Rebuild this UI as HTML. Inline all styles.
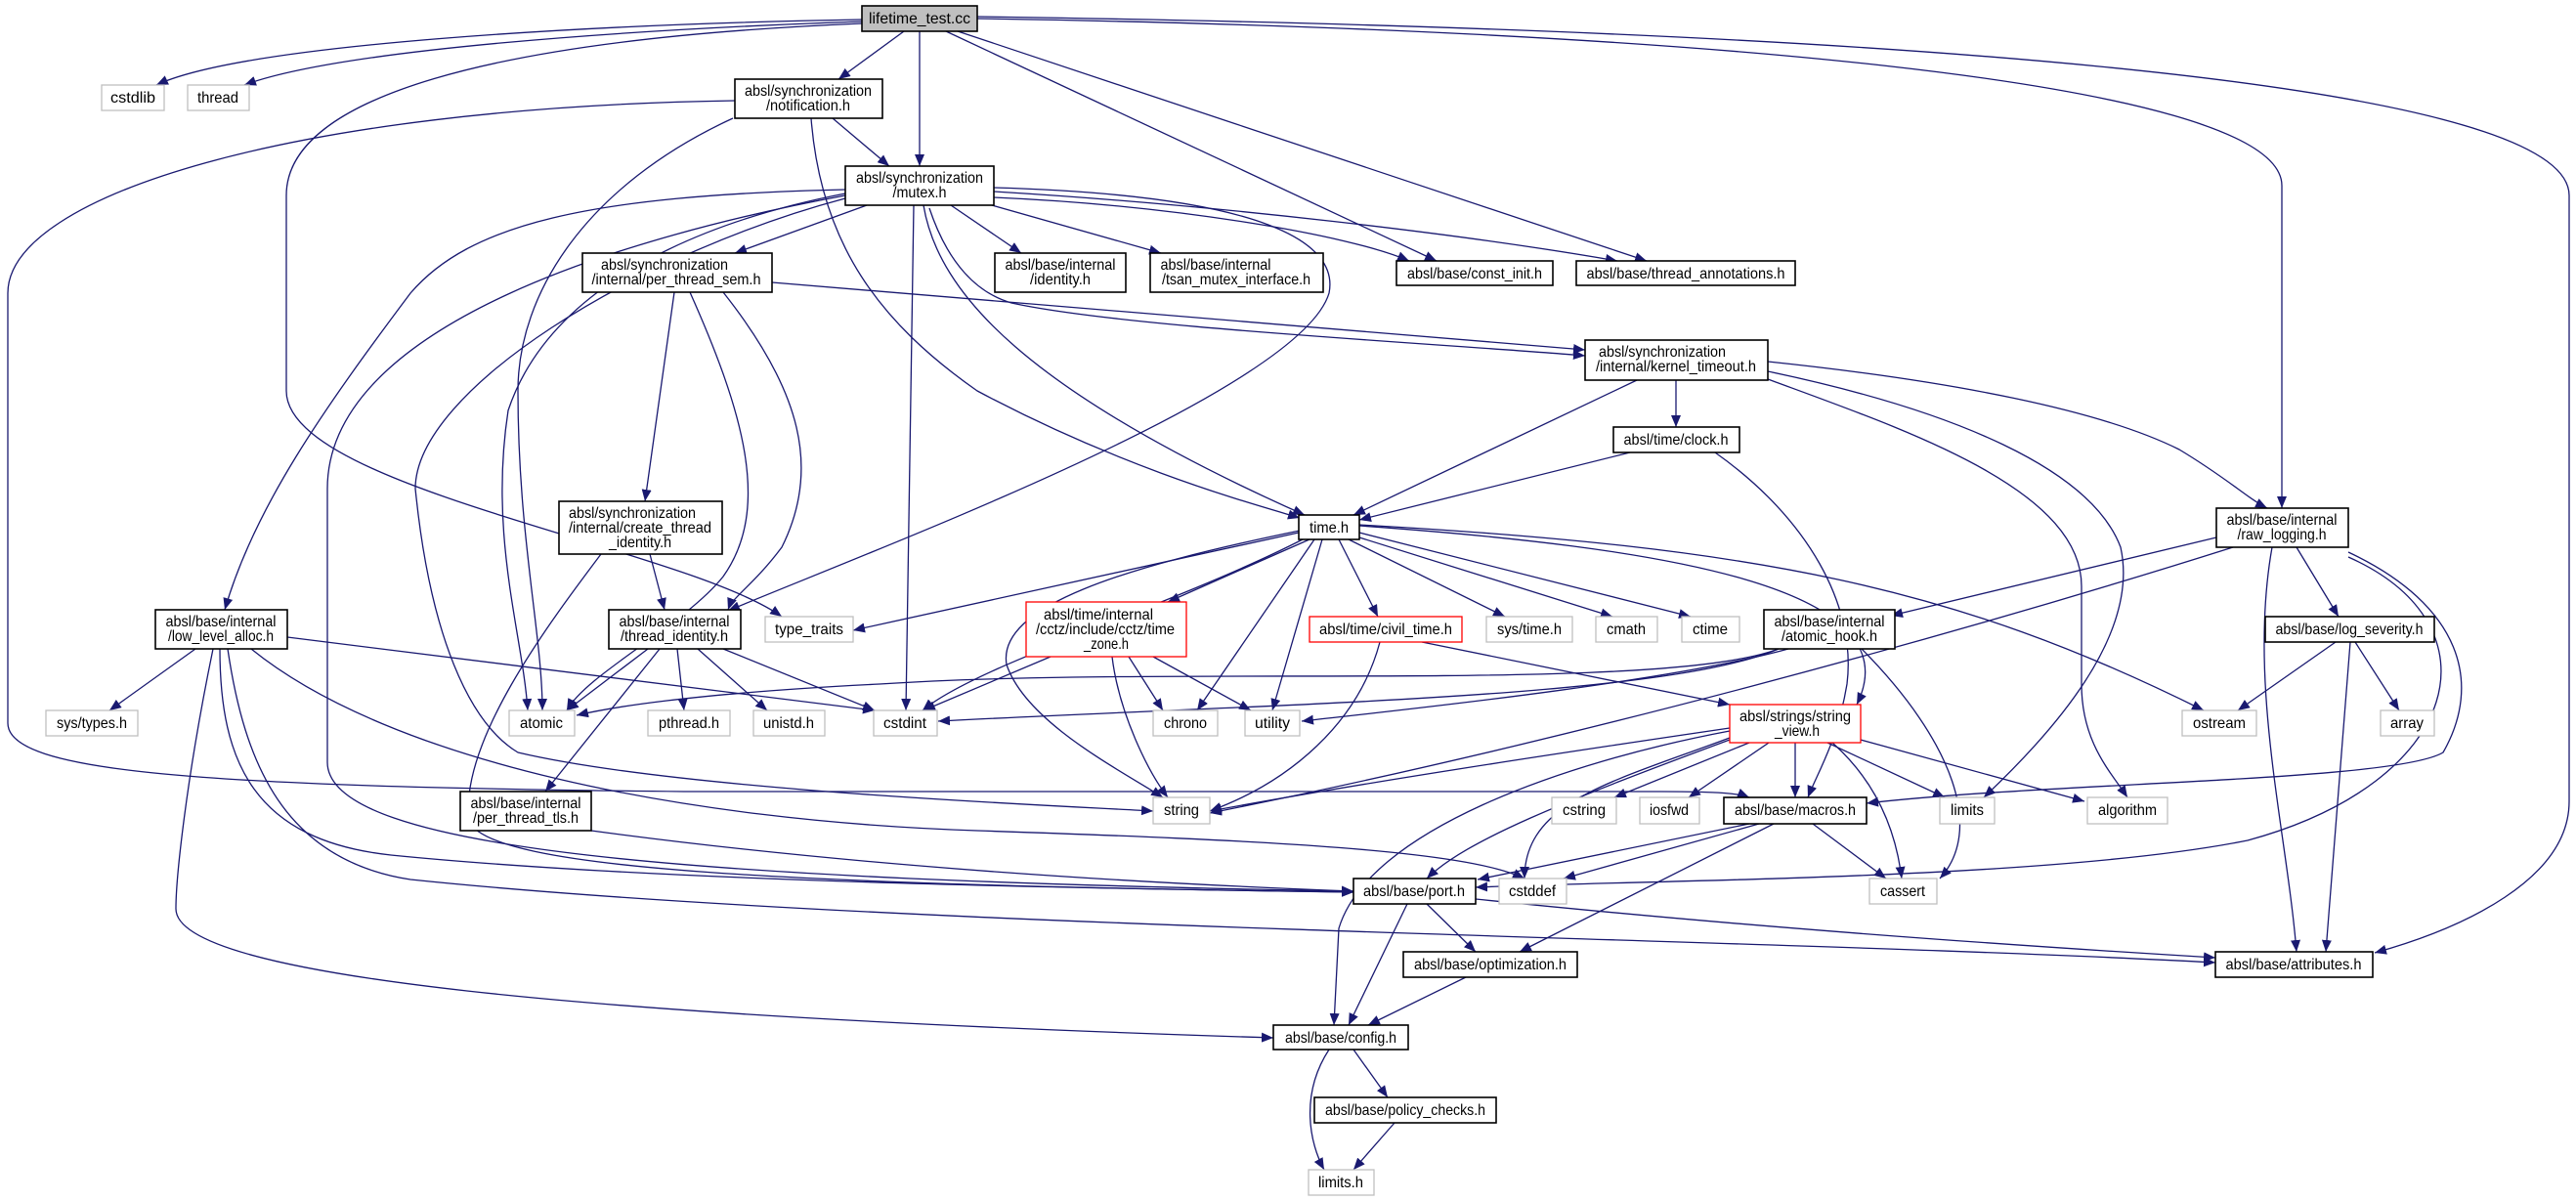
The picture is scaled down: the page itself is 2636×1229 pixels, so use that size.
<!DOCTYPE html>
<html><head><meta charset="utf-8"><style>
html,body{margin:0;padding:0;background:#fff;}
svg{display:block;}
text{font-family:"Liberation Sans",sans-serif;font-size:16px;fill:#000;text-anchor:middle;}
.e{fill:none;stroke:#191970;stroke-width:1.3;marker-end:url(#a);}
.n{fill:#fff;stroke:#000;stroke-width:1.6;}
.g{fill:#fff;stroke:#bfbfbf;stroke-width:1.3;}
.r{fill:#fff;stroke:#ff0000;stroke-width:1.3;}
</style></head><body>
<svg width="2636" height="1229" viewBox="0 0 2636 1229" xmlns="http://www.w3.org/2000/svg">
<defs><marker id="a" markerWidth="13" markerHeight="10" refX="12" refY="5" orient="auto" markerUnits="userSpaceOnUse"><path d="M0,0 L12,5 L0,10 z" fill="#191970"/></marker></defs>
<g>
<!-- lifetime_test.cc -->
<path class="e" d="M882,20 C600,25 250,45 160,87"/>
<path class="e" d="M882,22 C650,30 350,50 250,87"/>
<path class="e" d="M925,32 L858,81"/>
<path class="e" d="M941,32 L941,170"/>
<path class="e" d="M882,24 C500,40 293,100 293,200 L293,400 C293,500 700,560 800,631"/>
<path class="e" d="M968,32 L1470,267"/>
<path class="e" d="M980,32 L1685,267"/>
<path class="e" d="M1000,19 C1700,30 2335,80 2335,190 L2335,520"/>
<path class="e" d="M1000,17 C1900,30 2629,80 2629,200 L2629,820 C2629,900 2520,950 2430,975"/>
<!-- notification -->
<path class="e" d="M852,121 L910,170"/>
<path class="e" d="M752,103 C300,110 8,200 8,300 L8,740 C8,790 200,805 700,810 L1700,810 C1760,810 1780,812 1790,816"/>
<path class="e" d="M750,121 C600,190 530,300 530,400 C530,550 555,650 555,727"/>
<path class="e" d="M830,121 C840,250 900,330 1000,400 C1150,480 1280,515 1330,530"/>
<!-- mutex -->
<path class="e" d="M887,210 L752,259"/>
<path class="e" d="M973,210 L1045,259"/>
<path class="e" d="M1015,210 L1188,259"/>
<path class="e" d="M1017,202 C1200,210 1380,240 1442,267"/>
<path class="e" d="M1017,196 C1250,210 1500,240 1655,267"/>
<path class="e" d="M1017,192 C1300,200 1370,250 1360,300 C1330,400 900,560 745,625"/>
<path class="e" d="M951,213 C970,270 1000,300 1035,310 C1150,335 1450,350 1622,364"/>
<path class="e" d="M945,210 C960,300 1050,400 1335,527"/>
<path class="e" d="M935,210 L927,727"/>
<path class="e" d="M865,194 C600,200 480,230 420,300 C330,420 260,520 230,624"/>
<path class="e" d="M865,198 C700,230 560,300 520,420 C500,550 535,650 540,727"/>
<path class="e" d="M865,200 C650,240 335,330 335,500 L335,780 C335,870 700,900 1385,912"/>
<path class="e" d="M865,203 C650,260 425,400 425,500 C440,650 480,740 530,770 C700,810 1100,825 1180,830"/>
<!-- per_thread_sem -->
<path class="e" d="M690,299 L660,513"/>
<path class="e" d="M706,299 C760,420 790,520 740,590 C700,640 600,690 580,727"/>
<path class="e" d="M740,299 C820,400 840,480 800,560 C770,600 750,610 745,624"/>
<path class="e" d="M790,289 L1622,358"/>
<!-- create_thread_identity -->
<path class="e" d="M665,567 L680,624"/>
<path class="e" d="M615,567 C560,640 470,760 480,840 C500,890 800,905 1385,913"/>
<!-- thread_identity -->
<path class="e" d="M663,664 L580,727"/>
<path class="e" d="M693,664 L700,727"/>
<path class="e" d="M714,664 L785,727"/>
<path class="e" d="M740,664 L895,727"/>
<path class="e" d="M675,664 L558,810"/>
<!-- low_level_alloc -->
<path class="e" d="M200,664 L112,727"/>
<path class="e" d="M294,652 L895,727"/>
<path class="e" d="M257,664 C400,780 700,840 1000,850 C1300,860 1500,870 1560,899"/>
<path class="e" d="M225,664 C225,780 260,860 400,875 C700,905 1200,910 1385,913"/>
<path class="e" d="M233,664 C250,780 290,880 420,900 C900,950 1800,960 2267,985"/>
<path class="e" d="M218,664 C190,800 180,900 180,930 C180,1000 600,1040 1303,1062"/>
<!-- per_thread_tls -->
<path class="e" d="M605,850 C900,890 1200,905 1385,912"/>
<!-- time.h -->
<path class="e" d="M1329,545 L873,645"/>
<path class="e" d="M1340,552 L1195,616"/>
<path class="e" d="M1333,552 C1200,620 1000,680 944,727"/>
<path class="e" d="M1345,552 L1225,727"/>
<path class="e" d="M1353,552 L1302,727"/>
<path class="e" d="M1330,543 C1150,580 1020,620 1030,680 C1050,740 1150,790 1190,816"/>
<path class="e" d="M1370,552 L1410,631"/>
<path class="e" d="M1380,552 L1540,631"/>
<path class="e" d="M1391,550 L1650,631"/>
<path class="e" d="M1391,545 L1730,631"/>
<path class="e" d="M1391,538 C1700,560 1960,600 1900,721"/>
<path class="e" d="M1391,537 C1800,560 2000,600 2255,727"/>
<!-- kernel_timeout -->
<path class="e" d="M1675,389 L1385,527"/>
<path class="e" d="M1715,389 L1715,437"/>
<path class="e" d="M1809,370 C2000,390 2150,420 2230,460 C2280,490 2300,510 2320,520"/>
<path class="e" d="M1809,380 C2000,420 2140,480 2170,560 C2190,650 2100,750 2030,816"/>
<path class="e" d="M1809,388 C1950,440 2130,500 2130,600 L2130,700 C2130,760 2160,790 2177,816"/>
<!-- clock -->
<path class="e" d="M1668,463 L1391,532"/>
<path class="e" d="M1755,463 C1850,530 1900,620 1890,700 C1880,760 1860,790 1850,816"/>
<!-- raw_logging -->
<path class="e" d="M2268,550 L1935,630"/>
<path class="e" d="M2285,560 C2000,650 1600,760 1238,832"/>
<path class="e" d="M2350,560 L2393,631"/>
<path class="e" d="M2325,560 C2300,700 2340,850 2350,974"/>
<path class="e" d="M2403,565 C2520,620 2540,700 2500,770 C2450,800 2100,800 1910,822"/>
<path class="e" d="M2403,570 C2560,640 2520,800 2300,860 C2100,900 1700,900 1510,908"/>
<!-- log_severity -->
<path class="e" d="M2390,657 L2290,727"/>
<path class="e" d="M2410,657 L2455,727"/>
<path class="e" d="M2405,657 L2380,974"/>
<!-- atomic_hook -->
<path class="e" d="M1820,664 C1700,710 1200,680 900,700 C700,710 620,725 590,732"/>
<path class="e" d="M1820,664 C1700,715 1300,720 960,738"/>
<path class="e" d="M1830,664 C1700,700 1400,730 1332,738"/>
<path class="e" d="M1905,664 C2000,760 2030,850 1985,899"/>
<!-- cctz -->
<path class="e" d="M1075,672 L945,727"/>
<path class="e" d="M1155,672 L1190,727"/>
<path class="e" d="M1180,672 L1280,727"/>
<path class="e" d="M1138,672 C1145,730 1175,790 1195,816"/>
<!-- civil_time -->
<path class="e" d="M1455,657 L1770,721"/>
<path class="e" d="M1412,657 C1390,740 1320,800 1238,830"/>
<!-- string_view -->
<path class="e" d="M1790,760 L1652,816"/>
<path class="e" d="M1810,760 L1728,816"/>
<path class="e" d="M1837,760 L1837,816"/>
<path class="e" d="M1870,760 L1990,816"/>
<path class="e" d="M1904,757 L2133,820"/>
<path class="e" d="M1875,760 C1920,800 1940,850 1946,899"/>
<path class="e" d="M1770,745 C1600,770 1400,800 1238,830"/>
<path class="e" d="M1770,755 C1650,800 1560,820 1560,899"/>
<path class="e" d="M1770,757 C1600,820 1500,860 1460,899"/>
<path class="e" d="M1770,748 C1600,780 1400,850 1370,950 L1365,1049"/>
<!-- macros -->
<path class="e" d="M1790,843 L1512,900"/>
<path class="e" d="M1800,843 L1600,899"/>
<path class="e" d="M1815,843 L1555,974"/>
<path class="e" d="M1855,843 L1930,899"/>
<!-- port -->
<path class="e" d="M1460,925 L1510,974"/>
<path class="e" d="M1440,925 L1380,1049"/>
<path class="e" d="M1510,920 C1800,950 2100,970 2267,980"/>
<!-- optimization / config / policy -->
<path class="e" d="M1500,1000 L1400,1049"/>
<path class="e" d="M1385,1074 L1420,1123"/>
<path class="e" d="M1360,1074 C1330,1120 1340,1170 1355,1197"/>
<path class="e" d="M1427,1149 L1385,1197"/>
</g>
<g>
<rect x="882" y="6" width="118" height="26" fill="#bfbfbf" stroke="#000" stroke-width="1.6"/><text x="941" y="24" textLength="104" lengthAdjust="spacingAndGlyphs">lifetime_test.cc</text>
<rect class="g" x="104" y="87" width="64" height="26"/><text x="136" y="105" textLength="46" lengthAdjust="spacingAndGlyphs">cstdlib</text>
<rect class="g" x="192" y="87" width="63" height="26"/><text x="223" y="105" textLength="42" lengthAdjust="spacingAndGlyphs">thread</text>
<rect class="n" x="752" y="81" width="151" height="40"/><text x="827" y="98" textLength="130" lengthAdjust="spacingAndGlyphs">absl/synchronization</text><text x="827" y="113" textLength="86" lengthAdjust="spacingAndGlyphs">/notification.h</text>
<rect class="n" x="865" y="170" width="152" height="40"/><text x="941" y="187" textLength="130" lengthAdjust="spacingAndGlyphs">absl/synchronization</text><text x="941" y="202" textLength="55" lengthAdjust="spacingAndGlyphs">/mutex.h</text>
<rect class="n" x="596" y="259" width="194" height="40"/><text x="680" y="276" textLength="130" lengthAdjust="spacingAndGlyphs">absl/synchronization</text><text x="692" y="291" textLength="173" lengthAdjust="spacingAndGlyphs">/internal/per_thread_sem.h</text>
<rect class="n" x="1018" y="259" width="134" height="40"/><text x="1085" y="276" textLength="113" lengthAdjust="spacingAndGlyphs">absl/base/internal</text><text x="1085" y="291" textLength="62" lengthAdjust="spacingAndGlyphs">/identity.h</text>
<rect class="n" x="1177" y="259" width="177" height="40"/><text x="1244" y="276" textLength="113" lengthAdjust="spacingAndGlyphs">absl/base/internal</text><text x="1265" y="291" textLength="152" lengthAdjust="spacingAndGlyphs">/tsan_mutex_interface.h</text>
<rect class="n" x="572" y="513" width="167" height="54"/><text x="647" y="530" textLength="130" lengthAdjust="spacingAndGlyphs">absl/synchronization</text><text x="655" y="545" textLength="146" lengthAdjust="spacingAndGlyphs">/internal/create_thread</text><text x="655" y="560" textLength="64" lengthAdjust="spacingAndGlyphs">_identity.h</text>
<rect class="n" x="1429" y="267" width="160" height="25"/><text x="1509" y="285" textLength="138" lengthAdjust="spacingAndGlyphs">absl/base/const_init.h</text>
<rect class="n" x="1613" y="267" width="224" height="25"/><text x="1725" y="285" textLength="203" lengthAdjust="spacingAndGlyphs">absl/base/thread_annotations.h</text>
<rect class="n" x="1622" y="348" width="187" height="41"/><text x="1701" y="365" textLength="130" lengthAdjust="spacingAndGlyphs">absl/synchronization</text><text x="1715" y="380" textLength="164" lengthAdjust="spacingAndGlyphs">/internal/kernel_timeout.h</text>
<rect class="n" x="1651" y="437" width="129" height="26"/><text x="1715" y="455" textLength="107" lengthAdjust="spacingAndGlyphs">absl/time/clock.h</text>
<rect class="n" x="1329" y="527" width="62" height="25"/><text x="1360" y="545" textLength="40" lengthAdjust="spacingAndGlyphs">time.h</text>
<rect class="n" x="2268" y="520" width="135" height="40"/><text x="2335" y="537" textLength="113" lengthAdjust="spacingAndGlyphs">absl/base/internal</text><text x="2335" y="552" textLength="91" lengthAdjust="spacingAndGlyphs">/raw_logging.h</text>
<rect class="n" x="159" y="624" width="135" height="40"/><text x="226" y="641" textLength="113" lengthAdjust="spacingAndGlyphs">absl/base/internal</text><text x="226" y="656" textLength="108" lengthAdjust="spacingAndGlyphs">/low_level_alloc.h</text>
<rect class="g" x="47" y="727" width="94" height="26"/><text x="94" y="745" textLength="72" lengthAdjust="spacingAndGlyphs">sys/types.h</text>
<rect class="n" x="623" y="624" width="135" height="40"/><text x="690" y="641" textLength="113" lengthAdjust="spacingAndGlyphs">absl/base/internal</text><text x="690" y="656" textLength="110" lengthAdjust="spacingAndGlyphs">/thread_identity.h</text>
<rect class="g" x="783" y="631" width="90" height="26"/><text x="828" y="649" textLength="70" lengthAdjust="spacingAndGlyphs">type_traits</text>
<rect class="r" x="1050" y="616" width="164" height="56"/><text x="1124" y="634" textLength="112" lengthAdjust="spacingAndGlyphs">absl/time/internal</text><text x="1131" y="649" textLength="142" lengthAdjust="spacingAndGlyphs">/cctz/include/cctz/time</text><text x="1132" y="664" textLength="46" lengthAdjust="spacingAndGlyphs">_zone.h</text>
<rect class="g" x="521" y="727" width="67" height="26"/><text x="554" y="745" textLength="44" lengthAdjust="spacingAndGlyphs">atomic</text>
<rect class="g" x="663" y="727" width="84" height="26"/><text x="705" y="745" textLength="62" lengthAdjust="spacingAndGlyphs">pthread.h</text>
<rect class="g" x="771" y="727" width="73" height="26"/><text x="807" y="745" textLength="52" lengthAdjust="spacingAndGlyphs">unistd.h</text>
<rect class="g" x="894" y="727" width="65" height="26"/><text x="926" y="745" textLength="44" lengthAdjust="spacingAndGlyphs">cstdint</text>
<rect class="g" x="1180" y="727" width="66" height="26"/><text x="1213" y="745" textLength="44" lengthAdjust="spacingAndGlyphs">chrono</text>
<rect class="g" x="1274" y="727" width="56" height="26"/><text x="1302" y="745" textLength="36" lengthAdjust="spacingAndGlyphs">utility</text>
<rect class="g" x="1180" y="816" width="58" height="27"/><text x="1209" y="834" textLength="36" lengthAdjust="spacingAndGlyphs">string</text>
<rect class="n" x="471" y="810" width="134" height="40"/><text x="538" y="827" textLength="113" lengthAdjust="spacingAndGlyphs">absl/base/internal</text><text x="538" y="842" textLength="108" lengthAdjust="spacingAndGlyphs">/per_thread_tls.h</text>
<rect class="n" x="1303" y="1049" width="138" height="25"/><text x="1372" y="1067" textLength="114" lengthAdjust="spacingAndGlyphs">absl/base/config.h</text>
<rect class="r" x="1340" y="631" width="156" height="26"/><text x="1418" y="649" textLength="136" lengthAdjust="spacingAndGlyphs">absl/time/civil_time.h</text>
<rect class="g" x="1521" y="631" width="88" height="26"/><text x="1565" y="649" textLength="66" lengthAdjust="spacingAndGlyphs">sys/time.h</text>
<rect class="g" x="1633" y="631" width="63" height="26"/><text x="1664" y="649" textLength="40" lengthAdjust="spacingAndGlyphs">cmath</text>
<rect class="g" x="1721" y="631" width="59" height="26"/><text x="1750" y="649" textLength="36" lengthAdjust="spacingAndGlyphs">ctime</text>
<rect class="n" x="1805" y="624" width="134" height="40"/><text x="1872" y="641" textLength="113" lengthAdjust="spacingAndGlyphs">absl/base/internal</text><text x="1872" y="656" textLength="98" lengthAdjust="spacingAndGlyphs">/atomic_hook.h</text>
<rect class="n" x="2318" y="631" width="173" height="26"/><text x="2404" y="649" textLength="151" lengthAdjust="spacingAndGlyphs">absl/base/log_severity.h</text>
<rect class="r" x="1770" y="721" width="134" height="39"/><text x="1837" y="738" textLength="114" lengthAdjust="spacingAndGlyphs">absl/strings/string</text><text x="1839" y="753" textLength="46" lengthAdjust="spacingAndGlyphs">_view.h</text>
<rect class="g" x="2233" y="727" width="76" height="26"/><text x="2271" y="745" textLength="54" lengthAdjust="spacingAndGlyphs">ostream</text>
<rect class="g" x="2436" y="727" width="55" height="26"/><text x="2463" y="745" textLength="34" lengthAdjust="spacingAndGlyphs">array</text>
<rect class="g" x="1588" y="816" width="66" height="27"/><text x="1621" y="834" textLength="44" lengthAdjust="spacingAndGlyphs">cstring</text>
<rect class="g" x="1678" y="816" width="61" height="27"/><text x="1708" y="834" textLength="40" lengthAdjust="spacingAndGlyphs">iosfwd</text>
<rect class="n" x="1764" y="816" width="146" height="27"/><text x="1837" y="834" textLength="124" lengthAdjust="spacingAndGlyphs">absl/base/macros.h</text>
<rect class="g" x="1985" y="816" width="56" height="27"/><text x="2013" y="834" textLength="34" lengthAdjust="spacingAndGlyphs">limits</text>
<rect class="g" x="2136" y="816" width="82" height="27"/><text x="2177" y="834" textLength="60" lengthAdjust="spacingAndGlyphs">algorithm</text>
<rect class="n" x="1385" y="899" width="125" height="26"/><text x="1447" y="917" textLength="104" lengthAdjust="spacingAndGlyphs">absl/base/port.h</text>
<rect class="g" x="1534" y="899" width="69" height="26"/><text x="1568" y="917" textLength="48" lengthAdjust="spacingAndGlyphs">cstddef</text>
<rect class="g" x="1913" y="899" width="69" height="26"/><text x="1947" y="917" textLength="46" lengthAdjust="spacingAndGlyphs">cassert</text>
<rect class="n" x="1436" y="974" width="178" height="26"/><text x="1525" y="992" textLength="156" lengthAdjust="spacingAndGlyphs">absl/base/optimization.h</text>
<rect class="n" x="2267" y="974" width="161" height="26"/><text x="2347" y="992" textLength="139" lengthAdjust="spacingAndGlyphs">absl/base/attributes.h</text>
<rect class="n" x="1345" y="1123" width="186" height="26"/><text x="1438" y="1141" textLength="164" lengthAdjust="spacingAndGlyphs">absl/base/policy_checks.h</text>
<rect class="g" x="1339" y="1197" width="67" height="26"/><text x="1372" y="1215" textLength="46" lengthAdjust="spacingAndGlyphs">limits.h</text>
</g>
</svg>
</body></html>
